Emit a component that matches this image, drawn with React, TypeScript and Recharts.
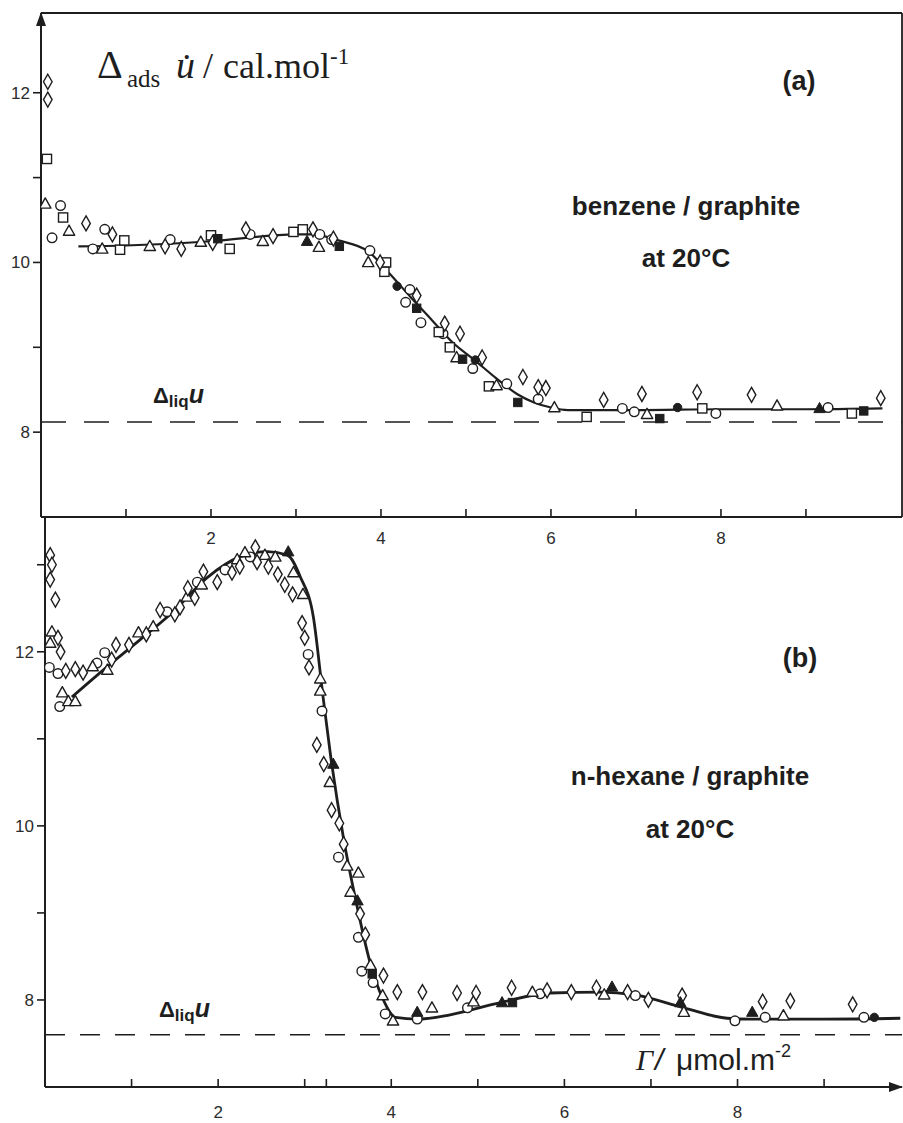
import React from "react";
import { ComposedChart, Line, Scatter, XAxis, YAxis, ReferenceLine } from "recharts";

type Pt = [number, number];

// ---------- panel (a): benzene / graphite ----------
const curveA: Pt[] = [
  [0.44, 10.19], [1, 10.2], [2, 10.25], [3, 10.33], [3.2, 10.33], [3.5, 10.26],
  [3.85, 10.13], [4.1, 9.87], [4.35, 9.59], [4.6, 9.32], [4.85, 9.05], [5.1, 8.85],
  [5.35, 8.64], [5.6, 8.45], [5.8, 8.35], [6.0, 8.29], [6.2, 8.26], [7, 8.26],
  [8, 8.27], [9, 8.27], [9.9, 8.28],
];
const openCircleA: Pt[] = [
  [0.13, 10.29], [0.23, 10.67], [0.61, 10.16], [0.75, 10.39], [1.52, 10.27], [2.46, 10.33],
  [3.28, 10.33], [3.42, 10.27], [3.87, 10.14], [4.34, 9.68], [4.29, 9.53], [4.47, 9.29],
  [4.73, 9.16], [5.08, 8.75], [5.48, 8.57], [5.85, 8.39], [6.84, 8.28], [6.98, 8.24],
  [7.94, 8.22], [9.26, 8.29],
];
const openSquareA: Pt[] = [
  [0.07, 11.22], [0.26, 10.53], [0.93, 10.15], [0.98, 10.26], [2.0, 10.32], [2.22, 10.16],
  [2.97, 10.36], [3.08, 10.39], [4.06, 10.0], [4.04, 9.89], [4.68, 9.18], [4.81, 9.0],
  [5.27, 8.54], [6.42, 8.18], [7.78, 8.28], [9.54, 8.22],
];
const openTriangleA: Pt[] = [
  [0.05, 10.69], [0.33, 10.37], [0.72, 10.16], [1.28, 10.19], [1.88, 10.24], [2.61, 10.25],
  [3.27, 10.18], [3.85, 10.0], [4.89, 8.88], [5.36, 8.55], [6.04, 8.29], [7.13, 8.21],
  [8.66, 8.31],
];
const openDiamondA: Pt[] = [
  [0.08, 12.13], [0.08, 11.92], [0.53, 10.46], [0.84, 10.33], [1.46, 10.19], [1.65, 10.16],
  [2.02, 10.23], [2.41, 10.39], [2.73, 10.31], [3.2, 10.39], [3.44, 10.28], [3.99, 10.0],
  [4.42, 9.61], [4.75, 9.28], [4.93, 9.16], [5.19, 8.88], [5.67, 8.65], [5.85, 8.53],
  [5.94, 8.52], [6.62, 8.38], [7.07, 8.45], [7.72, 8.47], [8.36, 8.44], [9.88, 8.4],
];
const filledSquareA: Pt[] = [
  [2.08, 10.28], [3.51, 10.19], [4.42, 9.46], [4.96, 8.86], [5.61, 8.35], [7.28, 8.16], [9.68, 8.25],
];
const filledTriangleA: Pt[] = [[3.13, 10.25], [9.16, 8.28]];
const filledCircleA: Pt[] = [[4.19, 9.72], [5.11, 8.85], [7.49, 8.29]];
const liquidA = 8.12;

// ---------- panel (b): n-hexane / graphite ----------
const curveB: Pt[] = [
  [0.31, 11.48], [0.72, 11.83], [1.1, 12.14], [1.48, 12.46], [1.87, 12.85], [2.25, 13.09],
  [2.57, 13.15], [2.8, 13.11], [2.95, 12.86], [3.1, 12.4], [3.21, 11.5], [3.3, 10.8],
  [3.45, 9.85], [3.6, 9.1], [3.75, 8.45], [3.9, 8.02], [4.05, 7.8], [4.3, 7.78],
  [4.68, 7.83], [5.26, 7.97], [5.84, 8.08], [6.42, 8.09], [6.8, 8.06], [7.38, 7.91],
  [7.88, 7.79], [8.15, 7.78], [9.0, 7.78], [9.88, 7.79],
];
const openCircleB: Pt[] = [
  [0.05, 11.82], [0.15, 11.75], [0.17, 11.37], [0.6, 11.87], [0.69, 11.99], [1.41, 12.46],
  [1.76, 12.8], [2.08, 12.94], [2.37, 13.09], [3.04, 11.97], [3.2, 11.32], [3.39, 9.64],
  [3.62, 8.72], [3.66, 8.33], [3.79, 8.2], [3.93, 7.84], [4.3, 7.78], [4.88, 7.91],
  [5.72, 8.07], [6.82, 8.05], [7.97, 7.76], [8.32, 7.8], [9.46, 7.8],
];
const openTriangleB: Pt[] = [
  [0.08, 12.23], [0.06, 12.1], [0.2, 11.53], [0.27, 11.43], [0.35, 11.43], [0.55, 11.83],
  [0.72, 11.79], [1.08, 12.22], [1.25, 12.29], [1.64, 12.63], [1.81, 12.77], [2.22, 13.06],
  [2.31, 13.14], [2.54, 13.11], [2.66, 13.09], [2.87, 12.91], [2.98, 12.66], [3.18, 11.69],
  [3.18, 11.55], [3.29, 10.5], [3.49, 9.54], [3.62, 9.46], [3.53, 9.24], [3.76, 8.4],
  [3.9, 8.05], [4.02, 7.76], [4.47, 7.91], [4.95, 7.98], [5.63, 8.09], [6.46, 8.06],
  [7.38, 7.86], [8.53, 7.82],
];
const openDiamondB: Pt[] = [
  [0.06, 13.11], [0.08, 13.0], [0.06, 12.83], [0.12, 12.6], [0.15, 12.16], [0.18, 12.0],
  [0.24, 11.78], [0.35, 11.8], [0.44, 11.76], [0.77, 11.91], [0.82, 12.08], [0.97, 12.08],
  [1.17, 12.2], [1.33, 12.48], [1.5, 12.43], [1.56, 12.51], [1.65, 12.73], [1.73, 12.62],
  [1.83, 12.92], [1.99, 12.8], [2.16, 12.91], [2.25, 12.98], [2.43, 13.2], [2.45, 13.03],
  [2.58, 12.98], [2.69, 12.89], [2.77, 12.77], [2.86, 12.66], [2.97, 12.33], [3.0, 12.16],
  [3.05, 11.82], [3.14, 10.93], [3.22, 10.71], [3.31, 10.18], [3.4, 10.03], [3.45, 9.79],
  [3.64, 8.99], [3.7, 8.75], [3.91, 8.28], [4.07, 8.09], [4.36, 8.09], [4.76, 8.08],
  [4.98, 8.08], [5.39, 8.14], [5.8, 8.11], [6.08, 8.09], [6.37, 8.14], [6.73, 8.09],
  [6.97, 8.0], [7.36, 8.05], [8.29, 7.98], [8.61, 7.99], [9.33, 7.95],
];
const filledTriangleB: Pt[] = [
  [2.81, 13.15], [3.33, 10.71], [3.61, 9.14], [4.3, 7.86], [5.28, 7.97], [6.55, 8.15],
  [7.34, 7.97], [8.17, 7.86],
];
const filledSquareB: Pt[] = [[3.78, 8.3], [5.4, 7.97]];
const filledCircleB: Pt[] = [[9.58, 7.8]];
const liquidB = 7.6;

// axes
const xTicksA = [1, 2, 3, 4, 5, 6, 7, 8, 9];
const xTicksB = [1, 2, 3, 3.25, 4, 5, 6, 7, 8, 9];
const yTicksA = [8, 9, 10, 11, 12];
const yTicksB = [8, 9, 10, 11, 12, 13];
const xDomainA: [number, number] = [0, 10.13];
const yDomainA: [number, number] = [7, 12.94];
const xDomainB: [number, number] = [0, 9.9];
const yDomainB: [number, number] = [7, 13.56];

const INK = "#1e1e1e";
const LABEL = "#2c2c2c";
const SANS = "Liberation Sans, Arial, sans-serif";
const SERIF = "Liberation Serif, Times New Roman, serif";

const rows = (pts: Pt[]) => pts.map(([x, y]) => ({ x, y }));

// marker shapes
const openCircle = (p: any) => (
  <circle cx={p.cx} cy={p.cy} r={4.8} fill="#fff" stroke={INK} strokeWidth={1.4} />
);
const filledCircle = (p: any) => <circle cx={p.cx} cy={p.cy} r={4.2} fill={INK} stroke={INK} />;
const openSquare = (p: any) => (
  <rect x={p.cx - 4.6} y={p.cy - 4.6} width={9.2} height={9.2} fill="#fff" stroke={INK} strokeWidth={1.4} />
);
const filledSquare = (p: any) => (
  <rect x={p.cx - 4.2} y={p.cy - 4.2} width={8.4} height={8.4} fill={INK} stroke={INK} />
);
const tri = (cx: number, cy: number) => `M${cx},${cy - 6} L${cx + 5.7},${cy + 4.2} L${cx - 5.7},${cy + 4.2} Z`;
const openTriangle = (p: any) => (
  <path d={tri(p.cx, p.cy)} fill="#fff" stroke={INK} strokeWidth={1.4} strokeLinejoin="round" />
);
const filledTriangle = (p: any) => <path d={tri(p.cx, p.cy)} fill={INK} stroke={INK} />;
const openDiamond = (p: any) => (
  <path
    d={`M${p.cx},${p.cy - 7.5} L${p.cx + 4.3},${p.cy} L${p.cx},${p.cy + 7.5} L${p.cx - 4.3},${p.cy} Z`}
    fill="#fff"
    stroke={INK}
    strokeWidth={1.4}
  />
);

const makeXTick = (labelDy: number) => (props: any) => {
  const { x, y, payload } = props;
  const v = payload.value;
  return (
    <g>
      <line x1={x} y1={y} x2={x} y2={y - 8} stroke={INK} strokeWidth={1.6} />
      {v % 2 === 0 && (
        <text x={x} y={y + labelDy} textAnchor="middle" fontSize={17} fill={LABEL} fontFamily={SANS}>
          {v}
        </text>
      )}
    </g>
  );
};

const YTick = (props: any) => {
  const { x, y, payload } = props;
  const v = payload.value;
  return (
    <g>
      <line x1={x} y1={y} x2={x - 8} y2={y} stroke={INK} strokeWidth={1.6} />
      {v % 2 === 0 && (
        <text x={x - 11} y={y} dy="0.35em" textAnchor="end" fontSize={17} fill={LABEL} fontFamily={SANS}>
          {v}
        </text>
      )}
    </g>
  );
};

function markers(set: [Pt[], (p: any) => React.ReactElement][]) {
  return set.map(([pts, shape], i) => (
    <Scatter key={i} data={rows(pts)} shape={shape} isAnimationActive={false} />
  ));
}

function LiqLabel({ x, y }: { x: number; y: number }) {
  return (
    <text x={x} y={y} fontFamily={SANS} fontWeight="bold" fontSize={22} fill={INK}>
      Δ<tspan fontSize={17} dy={4}>liq</tspan>
      <tspan dy={-4} fontStyle="italic" fontSize={25}>u</tspan>
    </text>
  );
}

export default function App() {
  return (
    <div
      style={{
        position: "absolute",
        left: 0,
        top: 0,
        width: 903,
        height: 1123,
        background: "#fff",
        overflow: "hidden",
      }}
    >
      <svg width={0} height={0} style={{ position: "absolute" }}>
        <defs>
          <marker
            id="arrowHead"
            viewBox="0 0 14 10"
            refX={13}
            refY={5}
            markerWidth={14}
            markerHeight={10}
            markerUnits="userSpaceOnUse"
            orient="auto-start-reverse"
          >
            <path d="M0,0 L14,5 L0,10 Z" fill={INK} />
          </marker>
        </defs>
      </svg>

      {/* panel (b) first so that panel (a)'s tick labels sit above it */}
      <div style={{ position: "absolute", left: 0, top: 500 }}>
        <ComposedChart width={903} height={623} margin={{ top: 16, right: 1, left: 0, bottom: 0 }}>
          <XAxis
            type="number"
            dataKey="x"
            domain={xDomainB}
            ticks={xTicksB}
            interval={0}
            allowDataOverflow
            height={36}
            tickLine={false}
            tickSize={0}
            tickMargin={0}
            tick={makeXTick(31)}
            axisLine={{ stroke: INK, strokeWidth: 2, markerEnd: "url(#arrowHead)" }}
          />
          <YAxis
            type="number"
            dataKey="y"
            domain={yDomainB}
            ticks={yTicksB}
            interval={0}
            allowDataOverflow
            width={45}
            tickLine={false}
            tickSize={0}
            tickMargin={0}
            tick={YTick}
            axisLine={{ stroke: INK, strokeWidth: 2 }}
          />
          <ReferenceLine y={liquidB} stroke={INK} strokeWidth={1.4} strokeDasharray="20 15" />
          <Line
            data={rows(curveB)}
            dataKey="y"
            type="monotone"
            stroke={INK}
            strokeWidth={2.8}
            dot={false}
            isAnimationActive={false}
          />
          {markers([
            [openCircleB, openCircle],
            [openTriangleB, openTriangle],
            [openDiamondB, openDiamond],
            [filledTriangleB, filledTriangle],
            [filledSquareB, filledSquare],
            [filledCircleB, filledCircle],
          ])}
        </ComposedChart>
      </div>

      {/* panel (a) */}
      <div style={{ position: "absolute", left: 0, top: 0 }}>
        <ComposedChart width={903} height={560} margin={{ top: 13, right: 1, left: 0, bottom: 0 }}>
          <XAxis
            type="number"
            dataKey="x"
            domain={xDomainA}
            ticks={xTicksA}
            interval={0}
            allowDataOverflow
            height={43}
            tickLine={false}
            tickSize={0}
            tickMargin={0}
            tick={makeXTick(27)}
            axisLine={{ stroke: INK, strokeWidth: 2 }}
          />
          <YAxis
            type="number"
            dataKey="y"
            domain={yDomainA}
            ticks={yTicksA}
            interval={0}
            allowDataOverflow
            width={41}
            tickLine={false}
            tickSize={0}
            tickMargin={0}
            tick={YTick}
            axisLine={{ stroke: INK, strokeWidth: 2, markerStart: "url(#arrowHead)" }}
          />
          <ReferenceLine y={yDomainA[1]} stroke={INK} strokeWidth={1.8} />
          <ReferenceLine x={xDomainA[1]} stroke={INK} strokeWidth={1.8} />
          <ReferenceLine y={liquidA} stroke={INK} strokeWidth={1.4} strokeDasharray="25 18" />
          <Line
            data={rows(curveA)}
            dataKey="y"
            type="monotone"
            stroke={INK}
            strokeWidth={2.2}
            dot={false}
            isAnimationActive={false}
          />
          {markers([
            [openCircleA, openCircle],
            [openSquareA, openSquare],
            [openTriangleA, openTriangle],
            [openDiamondA, openDiamond],
            [filledSquareA, filledSquare],
            [filledTriangleA, filledTriangle],
            [filledCircleA, filledCircle],
          ])}
        </ComposedChart>
      </div>

      {/* annotations */}
      <svg
        width={903}
        height={1123}
        style={{ position: "absolute", left: 0, top: 0, pointerEvents: "none" }}
      >
        <text y={78} fontFamily={SERIF} fontSize={36} fill={INK}>
          <tspan x={97} fontSize={40}>Δ</tspan>
          <tspan x={127} fontSize={25} dy={9}>ads</tspan>
          <tspan x={176} dy={-9} fontStyle="italic" fontSize={38}>u̇</tspan>
          <tspan x={203}>/</tspan>
          <tspan x={223}>cal.mol</tspan>
          <tspan fontSize={23} dy={-14}>-1</tspan>
        </text>

        <g fontFamily={SANS} fontWeight="bold" fill={INK} textAnchor="middle">
          <text x={799} y={90} fontSize={27}>(a)</text>
          <text x={686} y={215} fontSize={26}>benzene / graphite</text>
          <text x={686} y={267} fontSize={26}>at 20°C</text>
          <text x={800} y={667} fontSize={27}>(b)</text>
          <text x={690} y={785} fontSize={26}>n-hexane / graphite</text>
          <text x={690} y={838} fontSize={26}>at 20°C</text>
        </g>

        <LiqLabel x={153} y={403} />
        <LiqLabel x={159} y={1017} />

        <text y={1070} fontSize={30} fill={INK}>
          <tspan x={636} fontFamily={SERIF} fontStyle="italic">Γ</tspan>
          <tspan x={655} fontFamily={SANS} fontStyle="italic">/</tspan>
          <tspan x={676} fontFamily={SANS}>μmol.m</tspan>
          <tspan fontFamily={SANS} fontSize={18} dy={-13}>-2</tspan>
        </text>
      </svg>
    </div>
  );
}
